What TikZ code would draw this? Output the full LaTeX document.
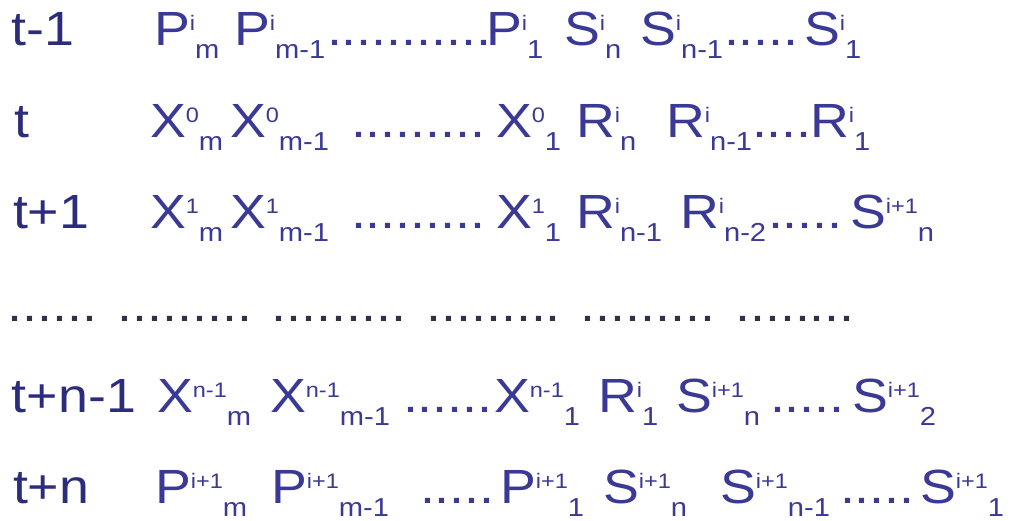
\documentclass[tikz,border=0pt]{standalone}
\usepackage{fontspec}
\setmainfont[FakeStretch=1.12]{Liberation Sans}
\definecolor{txtcol}{RGB}{58,58,150}
\definecolor{labcol}{RGB}{44,44,125}
\definecolor{dotcol}{RGB}{50,50,70}
\newcommand\mainsz{\fontsize{48pt}{48pt}\selectfont}
\newcommand\supsz{\fontsize{21pt}{21pt}\selectfont}
\newcommand\subsz{\fontsize{26pt}{26pt}\selectfont}
\newcommand\term[3]{#1\raisebox{15pt}{\supsz #2}\raisebox{-13pt}[6pt][0pt]{\subsz #3}}
\begin{document}
\begin{tikzpicture}[x=1pt,y=1pt,
  lab/.style={anchor=base west, inner sep=0pt, outer sep=0pt, text=labcol, font=\mainsz},
  trm/.style={anchor=base west, inner sep=0pt, outer sep=0pt, text=txtcol, font=\mainsz},
  dts/.style={anchor=base west, inner sep=0pt, outer sep=0pt, text=txtcol, font=\mainsz},
  sepline/.style={anchor=base west, inner sep=0pt, outer sep=0pt, text=dotcol, font=\mainsz}]
\useasboundingbox[fill=white] (0,0) rectangle (1016,-520);
% row t-1
\node[lab] (l1) at (12,-45) {t-1};
\node[trm] (r1a) at (154,-45) {\term{P}{i}{m}};
\node[trm] (r1b) at (234,-45) {\term{P}{i}{m-1}};
\node[dts] (r1c) at (327,-45) {...........};
\node[trm] (r1d) at (486,-45) {\term{P}{i}{1}};
\node[trm] (r1e) at (564,-45) {\term{S}{i}{n}};
\node[trm] (r1f) at (640,-45) {\term{S}{i}{n-1}};
\node[dts] (r1g) at (724,-45) {.....};
\node[trm] (r1h) at (804,-45) {\term{S}{i}{1}};
% row t
\node[lab] (l2) at (14,-137) {t};
\node[trm] (r2a) at (150,-137) {\term{X}{0}{m}};
\node[trm] (r2b) at (230,-137) {\term{X}{0}{m-1}};
\node[dts] (r2c) at (351,-137) {.........};
\node[trm] (r2d) at (496,-137) {\term{X}{0}{1}};
\node[trm] (r2e) at (576,-137) {\term{R}{i}{n}};
\node[trm] (r2f) at (666,-137) {\term{R}{i}{n-1}};
\node[dts] (r2g) at (752,-137) {....};
\node[trm] (r2h) at (810,-137) {\term{R}{i}{1}};
% row t+1
\node[lab] (l3) at (13,-228) {t+1};
\node[trm] (r3a) at (150,-228) {\term{X}{1}{m}};
\node[trm] (r3b) at (230,-228) {\term{X}{1}{m-1}};
\node[dts] (r3c) at (351,-228) {.........};
\node[trm] (r3d) at (496,-228) {\term{X}{1}{1}};
\node[trm] (r3e) at (576,-228) {\term{R}{i}{n-1}};
\node[trm] (r3f) at (680,-228) {\term{R}{i}{n-2}};
\node[dts] (r3g) at (768,-228) {.....};
\node[trm] (r3h) at (850,-228) {\term{S}{i+1}{n}};
% dotted separator
\node[sepline] (r4) at (8,-321) {...... ......... ......... ......... ......... ........};
% row t+n-1
\node[lab] (l5) at (12,-412) {t+n-1};
\node[trm] (r5a) at (157,-412) {\term{X}{n-1}{m}};
\node[trm] (r5b) at (270,-412) {\term{X}{n-1}{m-1}};
\node[dts] (r5c) at (403,-412) {......};
\node[trm] (r5d) at (494,-412) {\term{X}{n-1}{1}};
\node[trm] (r5e) at (598,-412) {\term{R}{i}{1}};
\node[trm] (r5f) at (676,-412) {\term{S}{i+1}{n}};
\node[dts] (r5g) at (770,-412) {.....};
\node[trm] (r5h) at (852,-412) {\term{S}{i+1}{2}};
% row t+n
\node[lab] (l6) at (13,-503) {t+n};
\node[trm] (r6a) at (155,-503) {\term{P}{i+1}{m}};
\node[trm] (r6b) at (271,-503) {\term{P}{i+1}{m-1}};
\node[dts] (r6c) at (420,-503) {.....};
\node[trm] (r6d) at (500,-503) {\term{P}{i+1}{1}};
\node[trm] (r6e) at (603,-503) {\term{S}{i+1}{n}};
\node[trm] (r6f) at (720,-503) {\term{S}{i+1}{n-1}};
\node[dts] (r6g) at (840,-503) {.....};
\node[trm] (r6h) at (920,-503) {\term{S}{i+1}{1}};
\end{tikzpicture}
\end{document}
